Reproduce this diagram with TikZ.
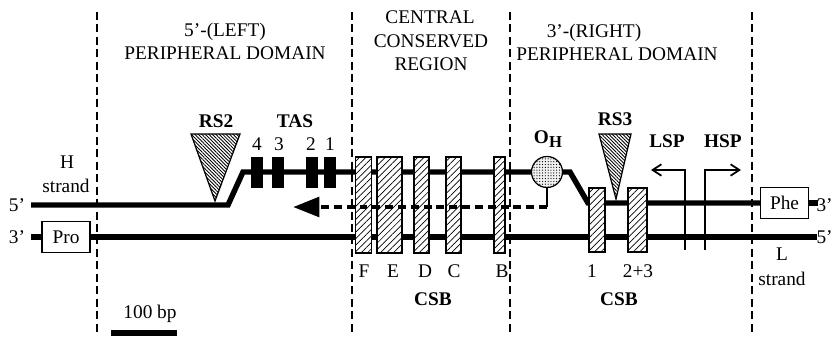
\documentclass[tikz,border=0pt]{standalone}
\usepackage{fontspec}
\setmainfont{Liberation Serif}
\usetikzlibrary{arrows.meta,patterns.meta}

\begin{document}
\begin{tikzpicture}[x=0.02cm, y=-0.02cm,
  font=\fontsize{11}{13}\selectfont,
  txt/.style={anchor=base, inner sep=0pt},
  boldtxt/.style={txt, font=\fontsize{11}{13}\selectfont\bfseries},
  divider/.style={line width=0.6pt, dash pattern=on 4.5pt off 2.6pt},
  strand/.style={line width=3.1pt},
  endbox/.style={draw, line width=0.7pt, fill=white, inner sep=0pt, minimum width=0.96cm, minimum height=0.62cm},
  tasbox/.style={fill=black, inner sep=0pt, minimum width=0.24cm, minimum height=0.62cm},
  csbbox/.style={draw, line width=0.7pt, inner sep=0pt, preaction={fill=white},
    pattern={Lines[angle=45,distance=2.6pt,line width=0.4pt]}},
  rsbox/.style={draw, line width=0.7pt, preaction={fill=white},
    pattern={Lines[angle=-45,distance=1.4pt,line width=0.5pt]}},
  promo/.style={line width=1pt, -{Straight Barb[length=5pt,width=6.5pt]}}
]
\useasboundingbox (0,0) rectangle (833,336);

% domain borders
\foreach \x in {97,352,510,752}
  \draw[divider] (\x,12) -- (\x,336);

\node[txt] (lefthead1) at (225,36) {5'-(LEFT)};
\node[txt] (lefthead2) at (225,59) {PERIPHERAL DOMAIN};
\node[txt] (midhead1) at (430,23) {CENTRAL};
\node[txt] (midhead2) at (431,47) {CONSERVED};
\node[txt] (midhead3) at (431,70) {REGION};
\node[txt] (righthead1) at (594,37) {3'-(RIGHT)};
\node[txt] (righthead2) at (617,60) {PERIPHERAL DOMAIN};

% end boxes and origin
\node[endbox] (pro) at (66,237) {Pro};
\node[endbox] (phe) at (784.5,203) {Phe};
\node[circle, draw, line width=0.7pt, inner sep=0pt, minimum size=0.62cm,
  preaction={fill=gray!12}, pattern={Dots[distance=1.6pt,radius=0.35pt]}] (oh) at (547,172) {};

% strands
\coordinate (h5) at (31,205);
\coordinate (hbend1) at (228,205);
\coordinate (hbend2) at (243,172);
\coordinate (hbend3) at (570,172);
\coordinate (hbend4) at (588,203);
\coordinate (h3) at (818,203);
\coordinate (l3) at (31,237);
\coordinate (l5) at (817,237);
\draw[strand] (h5) -- (hbend1) -- (hbend2) -- (oh.west);
\draw[strand] (oh.east) -- (hbend3) -- (hbend4) -- (phe.west);
\draw[strand] (phe.east) -- (h3);
\draw[strand] (l3) -- (pro.west);
\draw[strand] (pro.east) -- (l5);

% repeats
\draw[rsbox] (191,134) -- (240,134) -- (215,201) -- cycle;
\draw[rsbox] (599,134) -- (631,134) -- (616,199) -- cycle;

\node[tasbox] (tas4) at (257,172.5) {};
\node[tasbox] (tas3) at (278,172.5) {};
\node[tasbox] (tas2) at (312,172.5) {};
\node[tasbox] (tas1) at (329.5,172.5) {};

\node[csbbox, minimum width=0.32cm, minimum height=1.92cm] (csbf) at (363.5,205) {};
\node[csbbox, minimum width=0.5cm, minimum height=1.92cm] (csbe) at (389.5,205) {};
\node[csbbox, minimum width=0.3cm, minimum height=1.92cm] (csbd) at (421.5,205) {};
\node[csbbox, minimum width=0.3cm, minimum height=1.92cm] (csbc) at (453.5,205) {};
\node[csbbox, minimum width=0.22cm, minimum height=1.92cm] (csbb) at (499.5,205) {};
\node[csbbox, minimum width=0.32cm, minimum height=1.28cm] (csb1) at (597,220) {};
\node[csbbox, minimum width=0.38cm, minimum height=1.28cm] (csb23) at (637.5,220) {};

% H-strand synthesis
\coordinate (ohfoot) at (547,207);
\coordinate (ohtip) at (293,207);
\draw[line width=1pt] (oh.south) -- (ohfoot);
\draw[line width=2.6pt, dash pattern=on 4.5pt off 2.8pt, -{Triangle[length=15pt,width=11pt]}] (ohfoot) -- (ohtip);

% promoters
\coordinate (lspfoot) at (685,250);
\coordinate (lspbend) at (685,170);
\coordinate (lsptip) at (651,170);
\coordinate (hspfoot) at (705,250);
\coordinate (hspbend) at (705,170);
\coordinate (hsptip) at (741,170);
\draw[promo] (lspfoot) -- (lspbend) -- (lsptip);
\draw[promo] (hspfoot) -- (hspbend) -- (hsptip);

% labels
\node[txt] (h5lbl) at (17,211) {5'};
\node[txt] (l3lbl) at (17,243) {3'};
\node[txt, anchor=base east] (h3lbl) at (833,211) {3'};
\node[txt, anchor=base east] (l5lbl) at (833,243) {5'};
\node[txt] (hname1) at (67,168) {H};
\node[txt] (hname2) at (66,192) {strand};
\node[txt] (lname1) at (782,260) {L};
\node[txt] (lname2) at (782,285) {strand};

\node[boldtxt] (rs2lbl) at (216,127) {RS2};
\node[boldtxt] (taslbl) at (295,127) {TAS};
\node[txt] (tas4lbl) at (257,150) {4};
\node[txt] (tas3lbl) at (279,150) {3};
\node[txt] (tas2lbl) at (311,150) {2};
\node[txt] (tas1lbl) at (330,150) {1};
\node[boldtxt] (ohlbl) at (548,143) {O\raisebox{-0.55ex}{\fontsize{9.5}{10}\selectfont H}};
\node[boldtxt] (rs3lbl) at (615,125) {RS3};
\node[boldtxt] (lsplbl) at (667,147) {LSP};
\node[boldtxt] (hsplbl) at (723,147) {HSP};

\node[txt] (flbl) at (364,277) {F};
\node[txt] (elbl) at (393,277) {E};
\node[txt] (dlbl) at (425,277) {D};
\node[txt] (clbl) at (454,277) {C};
\node[txt] (blbl) at (502,277) {B};
\node[boldtxt] (csblbl) at (433,305) {CSB};
\node[txt] (onelbl) at (592,277) {1};
\node[txt] (twolbl) at (638,277) {2+3};
\node[boldtxt] (csbrlbl) at (619,305) {CSB};

% scale bar
\coordinate (bar1) at (111,333);
\coordinate (bar2) at (177,333);
\node[txt] (barlbl) at (150,318) {100 bp};
\draw[line width=3pt] (bar1) -- (bar2);
\end{tikzpicture}
\end{document}
